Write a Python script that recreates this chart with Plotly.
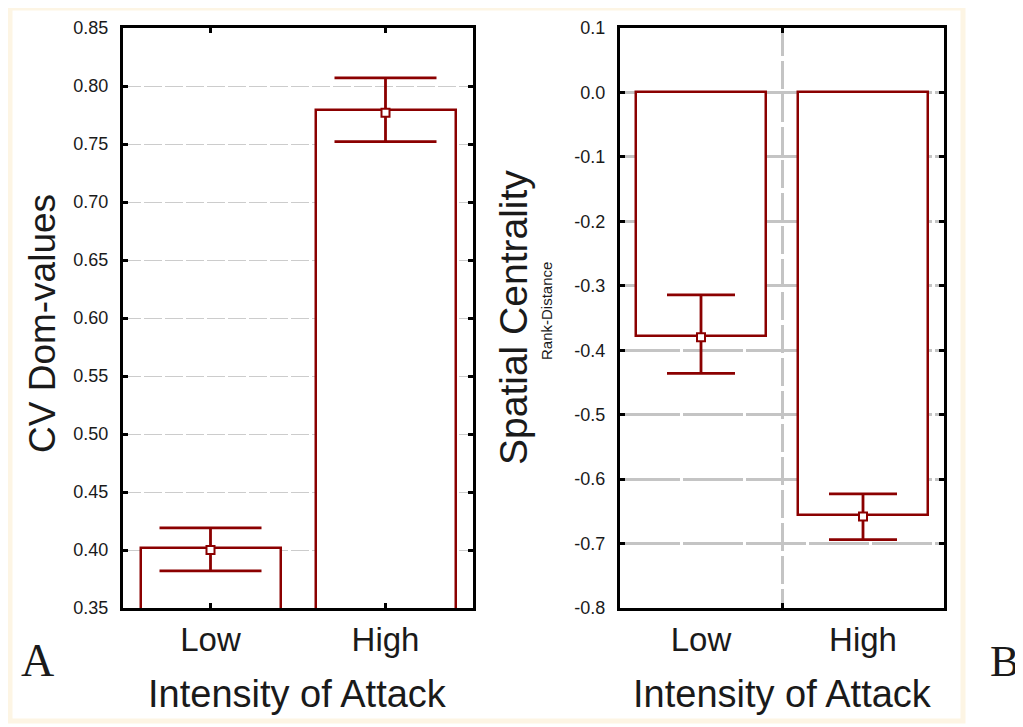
import plotly.graph_objects as go

# page has an 8px body margin; work in page pixel coordinates
OFF = 8
W, H = 1023 - OFF, 727 - OFF

# ---- data ----
categories = ["Low", "High"]
cat_pos = [0, 1]

# Panel A: CV Dom-values
a_bar = [0.402, 0.779]
a_mean = [0.400, 0.777]
a_upper = [0.419, 0.807]
a_lower = [0.382, 0.752]
a_ticks = [0.35, 0.40, 0.45, 0.50, 0.55, 0.60, 0.65, 0.70, 0.75, 0.80, 0.85]

# Panel B: Spatial Centrality (Rank-Distance)
b_bar = [-0.378, -0.656]
b_mean = [-0.380, -0.658]
b_upper = [-0.314, -0.623]
b_lower = [-0.436, -0.694]
b_ticks = [0.1, 0.0, -0.1, -0.2, -0.3, -0.4, -0.5, -0.6, -0.7, -0.8]
b_ticktext = ["0.1", "0.0", "-0.1", "-0.2", "-0.3", "-0.4", "-0.5", "-0.6", "-0.7", "-0.8"]

RED = "#8b0000"
FONT = "Liberation Sans, Arial, sans-serif"
SERIF = "Liberation Serif, Times New Roman, serif"


def px(x):
    return (x - OFF) / W


def py(y):
    return 1 - (y - OFF) / H


fig = go.Figure()

# Panel A
fig.add_trace(go.Bar(x=cat_pos, y=a_bar, width=0.8, base=0,
                     marker=dict(color="white", line=dict(color=RED, width=2.5)),
                     xaxis="x", yaxis="y", showlegend=False))
fig.add_trace(go.Scatter(
    x=cat_pos, y=a_mean, mode="markers", xaxis="x", yaxis="y", showlegend=False,
    marker=dict(symbol="square", size=8, color="white", line=dict(color=RED, width=2)),
    error_y=dict(type="data", symmetric=False,
                 array=[u - m for u, m in zip(a_upper, a_mean)],
                 arrayminus=[m - l for m, l in zip(a_mean, a_lower)],
                 color=RED, thickness=2.8, width=51)))

# Panel B
fig.add_trace(go.Bar(x=cat_pos, y=b_bar, width=0.8, base=0,
                     marker=dict(color="white", line=dict(color=RED, width=2.5)),
                     xaxis="x2", yaxis="y2", showlegend=False))
fig.add_trace(go.Scatter(
    x=cat_pos, y=b_mean, mode="markers", xaxis="x2", yaxis="y2", showlegend=False,
    marker=dict(symbol="square", size=8, color="white", line=dict(color=RED, width=2)),
    error_y=dict(type="data", symmetric=False,
                 array=[u - m for u, m in zip(b_upper, b_mean)],
                 arrayminus=[m - l for m, l in zip(b_mean, b_lower)],
                 color=RED, thickness=2.8, width=34)))

ydom = [py(608), py(28)]
axis_common = dict(showline=True, linecolor="black", linewidth=3, ticks="inside",
                   ticklen=5, tickwidth=2.5, tickcolor="black", zeroline=False,
                   automargin=False)

fig.update_layout(
    template="none",
    width=W, height=H, autosize=False,
    margin=dict(l=0, r=0, t=0, b=0, pad=0),
    paper_bgcolor="white", plot_bgcolor="white",
    font=dict(family=FONT, color="#1a1a1a"),
    bargap=0,
    xaxis=dict(domain=[px(123), px(473)], anchor="y", range=[-0.5, 1.5],
               tickvals=cat_pos, ticktext=categories, mirror="ticks",
               showgrid=False, tickfont=dict(size=33, family=FONT, color="#1a1a1a"),
               ticklabelstandoff=0, **axis_common),
    yaxis=dict(domain=ydom, anchor="x", range=[0.35, 0.85],
               tickvals=a_ticks, tickformat=".2f", mirror="ticks",
               showgrid=True, gridcolor="#cccccc", gridwidth=1.3, griddash="18px,3px",
               tickfont=dict(size=18, family=FONT, color="#1a1a1a"),
               ticklabelstandoff=8, **axis_common),
    xaxis2=dict(domain=[px(620), px(944)], anchor="y2", range=[-0.5, 1.5],
                tickvals=cat_pos, ticktext=categories, showline=True, linecolor="black",
                linewidth=3, ticks="", mirror="allticks", showgrid=False, zeroline=False,
                automargin=False,
                tickfont=dict(size=33, family=FONT, color="#1a1a1a"),
                ticklabelstandoff=0,
                minor=dict(tickvals=[0.5], ticks="inside", ticklen=5, tickwidth=2.5,
                           tickcolor="black", showgrid=True, gridcolor="#c4c4c4",
                           gridwidth=2.5, griddash="28px,5px")),
    yaxis2=dict(domain=ydom, anchor="x2", range=[-0.8, 0.1],
                tickvals=b_ticks, ticktext=b_ticktext, mirror="ticks",
                showgrid=True, gridcolor="#c4c4c4", gridwidth=2.5, griddash="60px,3px",
                tickfont=dict(size=18, family=FONT, color="#1a1a1a"),
                ticklabelstandoff=8, **axis_common),
)

ann = []
def add_text(text, x, y, size, angle=0, family=FONT):
    ann.append(dict(text=text, x=px(x), y=py(y), xref="paper", yref="paper",
                    xanchor="center", yanchor="middle", showarrow=False,
                    textangle=angle, font=dict(size=size, family=family, color="#1a1a1a")))

add_text("CV Dom-values", 42, 324, 37, -90)
add_text("Spatial Centrality", 513, 318, 39, -90)
add_text("Rank-Distance", 547, 311, 15, -90)
add_text("Intensity of Attack", 297, 694, 38)
add_text("Intensity of Attack", 782, 694, 38)
add_text("A", 37, 660, 46, family=SERIF)
add_text("B", 1004, 661, 44, family=SERIF)
fig.update_layout(annotations=ann)

# cream frame
fig.add_shape(type="rect", xref="paper", yref="paper",
              x0=px(10), x1=px(963), y0=py(721), y1=py(8),
              line=dict(color="#fdf5e4", width=5), fillcolor="rgba(0,0,0,0)", layer="below")

fig.write_html("out.html")
